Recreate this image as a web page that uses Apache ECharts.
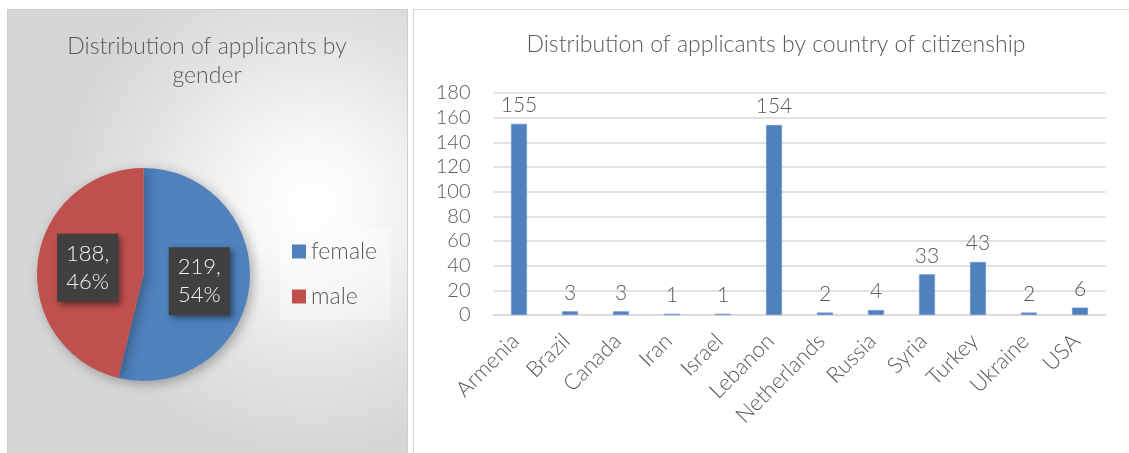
<!DOCTYPE html>
<html>
<head>
<meta charset="utf-8">
<script src="https://cdn.jsdelivr.net/npm/echarts@6/dist/echarts.min.js"></script>
<style>
html,body{margin:0;padding:0;background:#fff;width:1129px;height:453px;overflow:hidden;}
#leftBg{position:absolute;left:7px;top:9px;width:399px;height:460px;border:1px solid #cfcfcf;
  background:radial-gradient(ellipse 250px 250px at 76% 42%, #ffffff 0%, #f8f8f8 25%, #e4e4e4 65%, #d6d6d6 100%);}
#rightBg{position:absolute;left:413px;top:9px;width:730px;height:460px;border:1px solid #d9d9d9;background:#fff;}
#chart{position:absolute;left:0;top:0;width:1129px;height:453px;}
</style>
</head>
<body>
<div id="leftBg"></div>
<div id="rightBg"></div>
<div id="chart"></div>
<script>
const genderLabels = ['female', 'male'];
const genderValues = [219, 188];
const countries = ['Armenia', 'Brazil', 'Canada', 'Iran', 'Israel', 'Lebanon', 'Netherlands', 'Russia', 'Syria', 'Turkey', 'Ukraine', 'USA'];
const applicants = [155, 3, 3, 1, 1, 154, 2, 4, 33, 43, 2, 6];
const yMin = 0, yMax = 180, yStep = 20;

const FONT = 'Lato';
const TXT = '#595959';

const chart = echarts.init(document.getElementById('chart'), null, {renderer: 'canvas'});
chart.setOption({
  backgroundColor: 'transparent',
  animation: false,
  color: ['#4f81bd', '#c0504d'],
  title: [
    {
      text: 'Distribution of applicants by\ngender',
      left: 207, top: 32, padding: 0, textAlign: 'center',
      textStyle: {fontFamily: FONT, fontWeight: 300, fontSize: 23, color: TXT, lineHeight: 29}
    },
    {
      text: 'Distribution of applicants by country of citizenship',
      left: 776, top: 32, padding: 0, textAlign: 'center',
      textStyle: {fontFamily: FONT, fontWeight: 300, fontSize: 23, color: TXT, lineHeight: 26}
    }
  ],
  legend: {
    orient: 'vertical',
    left: 280, top: 228,
    padding: [12, 14, 12, 12],
    backgroundColor: 'rgba(255,255,255,0.35)',
    itemWidth: 14, itemHeight: 14, itemGap: 22,
    icon: 'rect',
    data: genderLabels,
    textStyle: {fontFamily: FONT, fontWeight: 300, fontSize: 23, color: TXT}
  },
  grid: {left: 493.5, right: 23.5, top: 93, bottom: 138},
  xAxis: {
    type: 'category',
    data: countries,
    axisLine: {lineStyle: {color: '#d9d9d9', width: 1.5}},
    axisTick: {show: false},
    axisLabel: {rotate: 45, margin: 19, padding: [0, 5, 0, 0], fontFamily: FONT, fontWeight: 300, fontSize: 22, color: TXT, interval: 0}
  },
  yAxis: {
    type: 'value',
    min: yMin, max: yMax, interval: yStep,
    axisLine: {show: false},
    axisTick: {show: false},
    splitLine: {lineStyle: {color: '#d9d9d9', width: 1.5}},
    axisLabel: {margin: 23, fontFamily: FONT, fontWeight: 300, fontSize: 20, color: TXT}
  },
  series: [
    {
      type: 'pie',
      center: [143.5, 274.5],
      radius: 106.5,
      startAngle: 90,
      clockwise: true,
      data: genderLabels.map((n, i) => ({name: n, value: genderValues[i]})),
      itemStyle: {shadowBlur: 12, shadowColor: 'rgba(0,0,0,0.3)', shadowOffsetX: 3, shadowOffsetY: 3},
      label: {
        position: 'inside',
        formatter: p => p.value + ',\n' + Math.round(p.percent) + '%',
        fontFamily: FONT, fontWeight: 300, fontSize: 22, lineHeight: 28,
        color: '#f2f2f2',
        backgroundColor: '#404040',
        padding: [6, 9, 6, 9],
        shadowBlur: 6, shadowColor: 'rgba(0,0,0,0.45)', shadowOffsetX: 3, shadowOffsetY: 3
      },
      labelLine: {show: false},
      emphasis: {disabled: true}
    },
    {
      type: 'bar',
      data: applicants,
      barWidth: 16,
      itemStyle: {color: '#4f81bd', borderColor: '#6f9ad0', borderWidth: 0.6},
      label: {show: true, position: 'top', distance: 8, fontFamily: FONT, fontWeight: 300, fontSize: 21, color: TXT}
    }
  ]
});
</script>
</body>
</html>
